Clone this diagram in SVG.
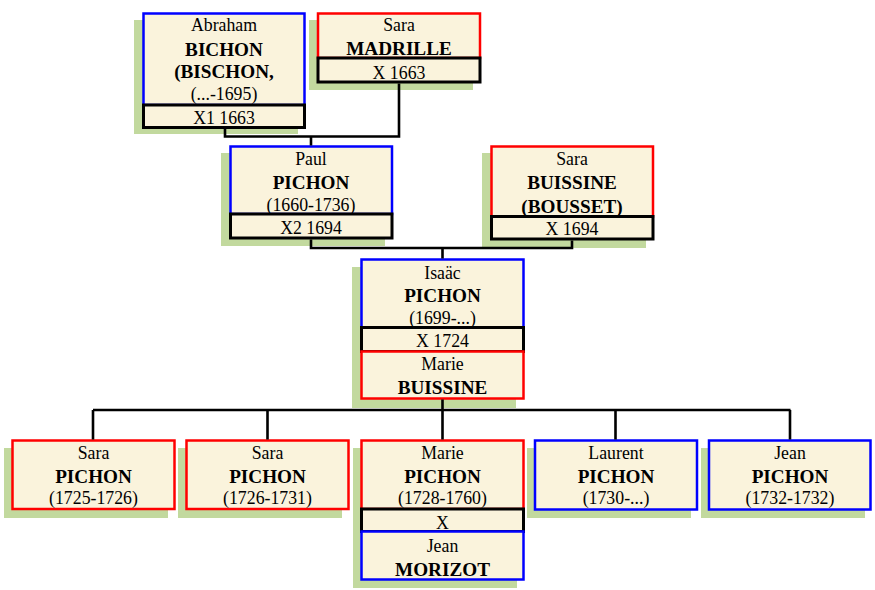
<svg xmlns="http://www.w3.org/2000/svg" width="875" height="590" viewBox="0 0 875 590">
<style>
.sh{fill:#C2D99E;stroke:none}
.m{fill:#FAF3DC;stroke:#0000FF;stroke-width:2.5}
.f{fill:#FAF3DC;stroke:#FF0000;stroke-width:2.5}
.x{fill:#FAF3DC;stroke:#000;stroke-width:3}
text{font-family:"Liberation Serif","Times New Roman",serif;font-size:17.8px;fill:#000;text-anchor:middle}
.b{font-weight:bold;font-size:19.2px}
.c{fill:none;stroke:#000;stroke-width:2.6}
</style>
<rect width="875" height="590" fill="#fff"/>
<g id="abraham">
<rect class="sh" x="134" y="20" width="164" height="114"/>
<rect class="m" x="143.5" y="13.5" width="161" height="91.5"/>
<rect class="x" x="143.5" y="105" width="161" height="22.5"/>
<text x="224" y="31">Abraham</text>
<text class="b" x="224" y="55.5">BICHON</text>
<text class="b" x="224" y="77.5">(BISCHON,</text>
<text x="224" y="100">(...-1695)</text>
<text x="224" y="124">X1 1663</text>
</g>
<g id="sara_madrille">
<rect class="sh" x="309" y="20" width="164" height="70"/>
<rect class="f" x="318" y="13.5" width="162" height="44.5"/>
<rect class="x" x="318" y="58" width="162" height="24"/>
<text x="399" y="31">Sara</text>
<text class="b" x="399" y="55">MADRILLE</text>
<text x="399" y="79">X 1663</text>
</g>
<g id="paul">
<rect class="sh" x="221" y="153" width="164" height="93"/>
<rect class="m" x="230.5" y="146.5" width="161.5" height="67.5"/>
<rect class="x" x="230.5" y="214" width="161.5" height="24"/>
<text x="311" y="165">Paul</text>
<text class="b" x="311" y="189">PICHON</text>
<text x="311" y="210.5">(1660-1736)</text>
<text x="311" y="233.5">X2 1694</text>
</g>
<g id="sara_buissine">
<rect class="sh" x="482" y="153" width="164" height="95"/>
<rect class="f" x="491.5" y="146.5" width="161.5" height="70"/>
<rect class="x" x="491.5" y="216.5" width="161.5" height="22.5"/>
<text x="572" y="165">Sara</text>
<text class="b" x="572" y="189">BUISSINE</text>
<text class="b" x="572" y="212.5">(BOUSSET)</text>
<text x="572" y="235">X 1694</text>
</g>
<g id="isaac">
<rect class="sh" x="352" y="267" width="164" height="141"/>
<rect class="m" x="361.5" y="259.5" width="162" height="68"/>
<rect class="x" x="361.5" y="327.5" width="162" height="24"/>
<rect class="f" x="361.5" y="351.5" width="162" height="47"/>
<text x="442.5" y="278.5">Isaäc</text>
<text class="b" x="442.5" y="301.5">PICHON</text>
<text x="442.5" y="323.5">(1699-...)</text>
<text x="442.5" y="347">X 1724</text>
<text x="442.5" y="370">Marie</text>
<text class="b" x="442.5" y="394">BUISSINE</text>
</g>
<g id="sara_1725">
<rect class="sh" x="4" y="448" width="164" height="70"/>
<rect class="f" x="12.5" y="440.5" width="162" height="68.5"/>
<text x="93.5" y="459">Sara</text>
<text class="b" x="93.5" y="482.5">PICHON</text>
<text x="93.5" y="504">(1725-1726)</text>
</g>
<g id="sara_1726">
<rect class="sh" x="178" y="448" width="164" height="70"/>
<rect class="f" x="186.5" y="440.5" width="162" height="68.5"/>
<text x="267.5" y="459">Sara</text>
<text class="b" x="267.5" y="482.5">PICHON</text>
<text x="267.5" y="504">(1726-1731)</text>
</g>
<g id="marie_pichon">
<rect class="sh" x="353" y="448" width="164" height="140"/>
<rect class="f" x="361.5" y="440.5" width="162" height="68.5"/>
<rect class="x" x="361.5" y="509" width="162" height="22.5"/>
<rect class="m" x="361.5" y="531.5" width="162" height="48"/>
<text x="442.5" y="458.5">Marie</text>
<text class="b" x="442.5" y="482.5">PICHON</text>
<text x="442.5" y="504">(1728-1760)</text>
<text x="442.5" y="529">X</text>
<text x="442.5" y="552">Jean</text>
<text class="b" x="442.5" y="576">MORIZOT</text>
</g>
<g id="laurent">
<rect class="sh" x="527" y="448" width="164" height="70"/>
<rect class="m" x="535" y="440.5" width="162" height="69"/>
<text x="616" y="459">Laurent</text>
<text class="b" x="616" y="482.5">PICHON</text>
<text x="616" y="504">(1730-...)</text>
</g>
<g id="jean_pichon">
<rect class="sh" x="701" y="448" width="164" height="70"/>
<rect class="m" x="709" y="440.5" width="161.5" height="69"/>
<text x="790" y="459">Jean</text>
<text class="b" x="790" y="482.5">PICHON</text>
<text x="790" y="504">(1732-1732)</text>
</g>
<g id="connectors">
<path class="c" d="M225,128.5 V136.5 H399 V83.5 M311,136.5 V145.5"/>
<path class="c" d="M311,239.5 V248 H572 V240.5 M442.5,248 V258.5"/>
<path class="c" d="M442.5,399.5 V410 M93,410 H790.5 M93,410 V439.5 M267.5,410 V439.5 M442.5,410 V439.5 M615.5,410 V439.5 M790,410 V439.5"/>
</g>
</svg>
